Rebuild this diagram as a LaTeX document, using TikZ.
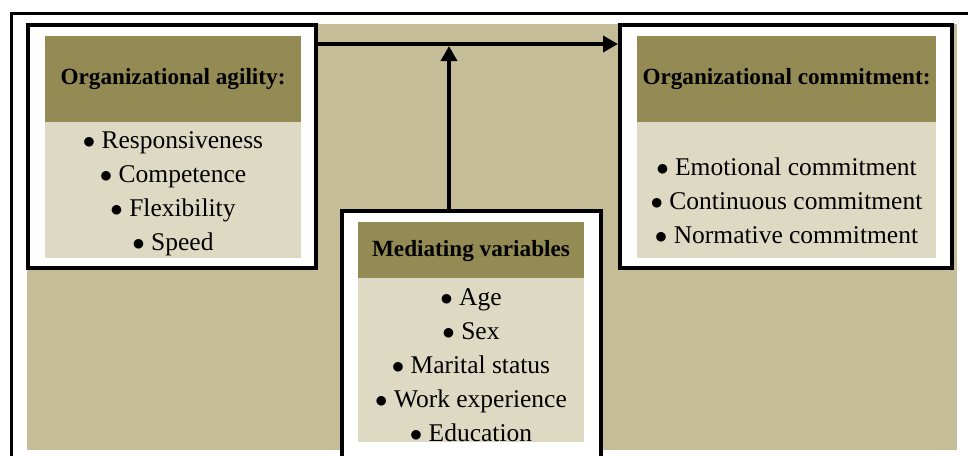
\documentclass[tikz,border=0pt]{standalone}
\usepackage{fontspec}
\setmainfont{Liberation Serif}
\usetikzlibrary{arrows.meta}

\definecolor{headcol}{HTML}{948A54}
\definecolor{bodycol}{HTML}{DDD9C3}
\definecolor{backcol}{HTML}{C4BD97}

\newcommand{\itemdot}{$\bullet$\ }
\newcommand{\topgap}[1]{\rule{0pt}{#1}}

\tikzset{
  boxframe/.style={draw, line width=4pt, fill=white, inner sep=0pt},
  headbox/.style={fill=headcol, inner sep=0pt, font=\fontsize{23.2}{28}\selectfont\bfseries},
  itembox/.style={fill=bodycol, inner sep=0pt, align=center, font=\fontsize{25.5}{34}\selectfont},
  link/.style={line width=3.5pt, -{Triangle[length=15pt,width=16pt]}}
}

\begin{document}
\begin{tikzpicture}[x=1pt, y=-1pt]
  \useasboundingbox (0,0) rectangle (968,455);

  % Cadre et fond
  \draw[line width=2.8pt] (11.4,13.4) rectangle (990,480);
  \fill[backcol] (27,24) rectangle (957,450);

  % Bloc gauche : agilite
  \node[boxframe, minimum width=288pt, minimum height=243pt] (agility) at (172,146.5) {};
  \node[headbox, minimum width=256pt, minimum height=86pt] (agilityhead) at (173,79) {Organizational agility:};
  \node[itembox, minimum width=256pt, minimum height=136pt] (agilitylist) at (173,190)
    {\topgap{23.5pt}\itemdot Responsiveness\\ \itemdot Competence\\ \itemdot Flexibility\\ \itemdot Speed};

  % Bloc droit : engagement
  \node[boxframe, minimum width=332pt, minimum height=243pt] (commit) at (786,146.5) {};
  \node[headbox, minimum width=299pt, minimum height=86pt] (commithead) at (786.5,79) {Organizational commitment:};
  \node[itembox, minimum width=299pt, minimum height=136pt] (commitlist) at (786.5,190)
    {\topgap{6pt}\\ \itemdot Emotional commitment\\ \itemdot Continuous commitment\\ \itemdot Normative commitment};

  % Bloc du milieu : variables
  \node[boxframe, minimum width=259pt, minimum height=260pt] (mediate) at (471.5,341) {};
  \node[headbox, minimum width=226pt, minimum height=58pt] (mediatehead) at (471,251) {Mediating variables};
  \node[itembox, minimum width=226pt, minimum height=160pt] (mediatelist) at (471,360)
    {\topgap{27pt}\itemdot Age\\ \itemdot Sex\\ \itemdot Marital status\\ \itemdot Work experience\\ \itemdot Education};

  % Fleches
  \coordinate (split) at (449,44);
  \draw[link] (agility.east |- split) -- (commit.west |- split);
  \draw[link, shorten >=2pt] (mediate.north -| split) -- (split);
\end{tikzpicture}
\end{document}
